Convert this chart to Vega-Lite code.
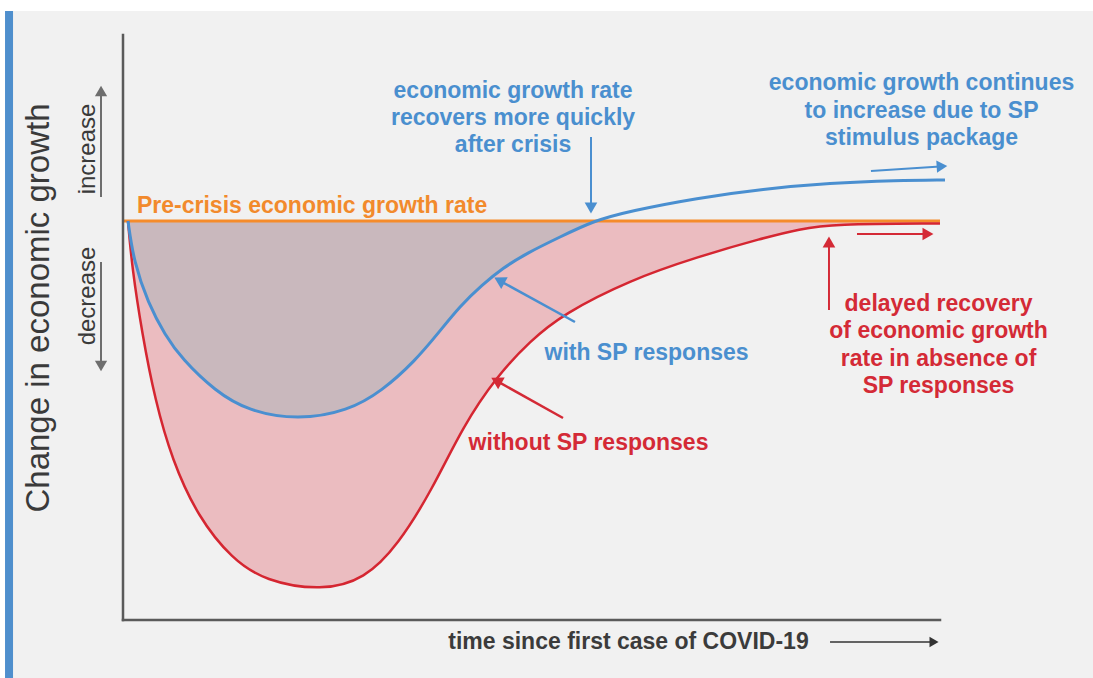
{
  "$schema": "https://vega.github.io/schema/vega-lite/v6.json",
  "width": 817,
  "height": 586,
  "autosize": {"type": "none"},
  "padding": {"left": 123, "top": 35, "right": 153, "bottom": 57},
  "background": "white",
  "config": {"view": {"stroke": null}, "axis": {"disable": true}, "font": "Liberation Sans"},
  "data": {"values": [{}]},
  "datasets": {
    "blue": [
      {"t": 0.61, "g": 0}, {"t": 1.3, "g": -0.4}, {"t": 3.06, "g": -0.82}, {"t": 5.14, "g": -1.14},
      {"t": 7.22, "g": -1.38}, {"t": 11.26, "g": -1.7}, {"t": 15.3, "g": -1.9}, {"t": 21.42, "g": -1.99},
      {"t": 27.54, "g": -1.9}, {"t": 31.7, "g": -1.7}, {"t": 35.74, "g": -1.4}, {"t": 38.6, "g": -1.12},
      {"t": 41.25, "g": -0.85}, {"t": 43.94, "g": -0.64}, {"t": 46.5, "g": -0.47},
      {"t": 49.45, "g": -0.32}, {"t": 53.49, "g": -0.16}, {"t": 57.53, "g": 0}, {"t": 62.06, "g": 0.1},
      {"t": 70.26, "g": 0.23}, {"t": 78.34, "g": 0.32}, {"t": 86.54, "g": 0.38}, {"t": 94.74, "g": 0.405},
      {"t": 100.61, "g": 0.41}
    ],
    "red": [
      {"t": 0.61, "g": 0}, {"t": 1.1, "g": -0.46}, {"t": 2.33, "g": -1.12}, {"t": 3.92, "g": -1.79},
      {"t": 6.0, "g": -2.39}, {"t": 9.18, "g": -2.96}, {"t": 13.34, "g": -3.38}, {"t": 17.38, "g": -3.6},
      {"t": 24.36, "g": -3.7}, {"t": 29.62, "g": -3.58}, {"t": 33.66, "g": -3.24}, {"t": 37.82, "g": -2.69},
      {"t": 41.62, "g": -2.05}, {"t": 45.78, "g": -1.55}, {"t": 49.82, "g": -1.2},
      {"t": 53.86, "g": -0.93}, {"t": 62.06, "g": -0.59}, {"t": 70.26, "g": -0.36}, {"t": 78.34, "g": -0.17},
      {"t": 82.86, "g": -0.08}, {"t": 86.78, "g": -0.03}, {"t": 100, "g": -0.025}
    ]
  },
  "layer": [
    {
      "mark": {"type": "rect", "color": "#f1f1f1"},
      "encoding": {
        "x": {"datum": -13.46, "type": "quantitative", "scale": {"domain": [0, 100], "nice": false, "zero": false}},
        "x2": {"datum": 125},
        "y": {"datum": 2.1, "type": "quantitative", "scale": {"domain": [-4, 1.86], "nice": false, "zero": false}},
        "y2": {"datum": -4.8}
      }
    },
    {
      "mark": {"type": "rect", "color": "#4f8fcd"},
      "encoding": {"x": {"datum": -14.44}, "x2": {"datum": -13.46}, "y": {"datum": 2.1}, "y2": {"datum": -4.8}}
    },
    {
      "data": {"name": "red"},
      "mark": {"type": "area", "interpolate": "basis", "color": "#ebbcc0"},
      "encoding": {"x": {"field": "t", "type": "quantitative"}, "y": {"field": "g", "type": "quantitative"}, "y2": {"datum": 0}}
    },
    {
      "data": {"name": "blue"},
      "transform": [{"filter": "datum.g <= 0"}],
      "mark": {"type": "area", "interpolate": "basis", "color": "#c9b8bd"},
      "encoding": {"x": {"field": "t", "type": "quantitative"}, "y": {"field": "g", "type": "quantitative"}, "y2": {"datum": 0}}
    },
    {
      "mark": {"type": "rule", "color": "#f58b2b", "strokeWidth": 3},
      "encoding": {"x": {"datum": 0}, "x2": {"datum": 100}, "y": {"datum": 0}}
    },
    {
      "data": {"name": "red"},
      "mark": {"type": "line", "interpolate": "basis", "color": "#d52631", "strokeWidth": 2.5},
      "encoding": {"x": {"field": "t", "type": "quantitative"}, "y": {"field": "g", "type": "quantitative"}}
    },
    {
      "data": {"name": "blue"},
      "mark": {"type": "line", "interpolate": "basis", "color": "#4a8fd0", "strokeWidth": 3},
      "encoding": {"x": {"field": "t", "type": "quantitative"}, "y": {"field": "g", "type": "quantitative"}}
    },
    {
      "mark": {"type": "rule", "color": "#5a5a5a", "strokeWidth": 2.5, "strokeCap": "square"},
      "encoding": {"x": {"datum": 0}, "y": {"datum": -3.99}, "y2": {"datum": 1.86}}
    },
    {
      "mark": {"type": "rule", "color": "#5a5a5a", "strokeWidth": 2.5, "strokeCap": "square"},
      "encoding": {"x": {"datum": 0}, "x2": {"datum": 100}, "y": {"datum": -3.99}}
    },
    {
      "mark": {"type": "text", "text": "Pre-crisis economic growth rate", "align": "left", "baseline": "middle", "fontSize": 23, "fontWeight": "bold", "color": "#f28a2c"},
      "encoding": {"x": {"datum": 1.71}, "y": {"datum": 0.15}}
    },
    {
      "mark": {"type": "text", "text": ["economic growth rate", "recovers more quickly", "after crisis"], "align": "center", "baseline": "middle", "lineHeight": 27, "fontSize": 23, "fontWeight": "bold", "color": "#4a8fcf"},
      "encoding": {"x": {"datum": 47.74}, "y": {"datum": 1.3}}
    },
    {
      "mark": {"type": "text", "text": ["economic growth continues", "to increase due to SP", "stimulus package"], "align": "center", "baseline": "middle", "lineHeight": 27.5, "fontSize": 23, "fontWeight": "bold", "color": "#4a8fcf"},
      "encoding": {"x": {"datum": 97.74}, "y": {"datum": 1.38}}
    },
    {
      "mark": {"type": "text", "text": "with SP responses", "align": "center", "baseline": "middle", "fontSize": 23, "fontWeight": "bold", "color": "#4a8fcf"},
      "encoding": {"x": {"datum": 64.08}, "y": {"datum": -1.32}}
    },
    {
      "mark": {"type": "text", "text": "without SP responses", "align": "center", "baseline": "middle", "fontSize": 23, "fontWeight": "bold", "color": "#d42a36"},
      "encoding": {"x": {"datum": 56.98}, "y": {"datum": -2.22}}
    },
    {
      "mark": {"type": "text", "text": ["delayed recovery", "of economic growth", "rate in absence of", "SP responses"], "align": "center", "baseline": "middle", "lineHeight": 27.3, "fontSize": 23, "fontWeight": "bold", "color": "#d42a36"},
      "encoding": {"x": {"datum": 99.82}, "y": {"datum": -0.83}}
    },
    {
      "mark": {"type": "text", "text": "time since first case of COVID-19", "align": "center", "baseline": "middle", "fontSize": 23, "fontWeight": "bold", "color": "#3b3b3b"},
      "encoding": {"x": {"datum": 61.87}, "y": {"datum": -4.21}}
    },
    {
      "mark": {"type": "text", "text": "Change in economic growth", "angle": 270, "align": "center", "baseline": "middle", "fontSize": 33, "color": "#3a3a3a"},
      "encoding": {"x": {"datum": -10.28}, "y": {"datum": -0.87}}
    },
    {
      "mark": {"type": "text", "text": "increase", "angle": 270, "align": "center", "baseline": "middle", "fontSize": 24, "color": "#3a3a3a"},
      "encoding": {"x": {"datum": -4.28}, "y": {"datum": 0.72}}
    },
    {
      "mark": {"type": "text", "text": "decrease", "angle": 270, "align": "center", "baseline": "middle", "fontSize": 24, "color": "#3a3a3a"},
      "encoding": {"x": {"datum": -4.28}, "y": {"datum": -0.75}}
    },
    {
      "mark": {"type": "rule", "color": "#6e6e6e", "strokeWidth": 2},
      "encoding": {"x": {"datum": -2.69}, "y": {"datum": 0.24}, "y2": {"datum": 1.26}}
    },
    {
      "mark": {"type": "point", "shape": "triangle-up", "filled": true, "opacity": 1, "size": 150, "color": "#6e6e6e", "angle": 0},
      "encoding": {"x": {"datum": -2.69}, "y": {"datum": 1.3}}
    },
    {
      "mark": {"type": "rule", "color": "#6e6e6e", "strokeWidth": 2},
      "encoding": {"x": {"datum": -2.69}, "y": {"datum": -0.41}, "y2": {"datum": -1.42}}
    },
    {
      "mark": {"type": "point", "shape": "triangle-up", "filled": true, "opacity": 1, "size": 150, "color": "#6e6e6e", "angle": 180},
      "encoding": {"x": {"datum": -2.69}, "y": {"datum": -1.45}}
    },
    {
      "mark": {"type": "rule", "color": "#4a8fd0", "strokeWidth": 2},
      "encoding": {"x": {"datum": 57.28}, "y": {"datum": 0.84}, "y2": {"datum": 0.16}}
    },
    {
      "mark": {"type": "point", "shape": "triangle-up", "filled": true, "opacity": 1, "size": 160, "color": "#4a8fd0", "angle": 180},
      "encoding": {"x": {"datum": 57.28}, "y": {"datum": 0.13}}
    },
    {
      "mark": {"type": "rule", "color": "#4a8fd0", "strokeWidth": 2.5},
      "encoding": {"x": {"datum": 55.32}, "y": {"datum": -1.01}, "x2": {"datum": 46.3}, "y2": {"datum": -0.606}}
    },
    {
      "mark": {"type": "point", "shape": "triangle-up", "filled": true, "opacity": 1, "size": 180, "color": "#4a8fd0", "angle": 298.8},
      "encoding": {"x": {"datum": 46.07}, "y": {"datum": -0.594}}
    },
    {
      "mark": {"type": "rule", "color": "#4a8fd0", "strokeWidth": 2},
      "encoding": {"x": {"datum": 91.55}, "y": {"datum": 0.5}, "x2": {"datum": 100.0}, "y2": {"datum": 0.545}}
    },
    {
      "mark": {"type": "point", "shape": "triangle-up", "filled": true, "opacity": 1, "size": 150, "color": "#4a8fd0", "angle": 86.2},
      "encoding": {"x": {"datum": 100.24}, "y": {"datum": 0.547}}
    },
    {
      "mark": {"type": "rule", "color": "#d42a36", "strokeWidth": 2.5},
      "encoding": {"x": {"datum": 53.86}, "y": {"datum": -1.97}, "x2": {"datum": 45.9}, "y2": {"datum": -1.606}}
    },
    {
      "mark": {"type": "point", "shape": "triangle-up", "filled": true, "opacity": 1, "size": 180, "color": "#d42a36", "angle": 299.4},
      "encoding": {"x": {"datum": 45.7}, "y": {"datum": -1.595}}
    },
    {
      "mark": {"type": "rule", "color": "#d42a36", "strokeWidth": 2},
      "encoding": {"x": {"datum": 86.41}, "y": {"datum": -0.89}, "y2": {"datum": -0.23}}
    },
    {
      "mark": {"type": "point", "shape": "triangle-up", "filled": true, "opacity": 1, "size": 160, "color": "#d42a36", "angle": 0},
      "encoding": {"x": {"datum": 86.41}, "y": {"datum": -0.21}}
    },
    {
      "mark": {"type": "rule", "color": "#d42a36", "strokeWidth": 2},
      "encoding": {"x": {"datum": 89.84}, "x2": {"datum": 98.3}, "y": {"datum": -0.13}}
    },
    {
      "mark": {"type": "point", "shape": "triangle-up", "filled": true, "opacity": 1, "size": 160, "color": "#d42a36", "angle": 90},
      "encoding": {"x": {"datum": 98.53}, "y": {"datum": -0.13}}
    },
    {
      "mark": {"type": "rule", "color": "#333333", "strokeWidth": 1.5},
      "encoding": {"x": {"datum": 86.54}, "x2": {"datum": 99.1}, "y": {"datum": -4.21}}
    },
    {
      "mark": {"type": "point", "shape": "triangle-up", "filled": true, "opacity": 1, "size": 110, "color": "#333333", "angle": 90},
      "encoding": {"x": {"datum": 99.27}, "y": {"datum": -4.21}}
    }
  ]
}
